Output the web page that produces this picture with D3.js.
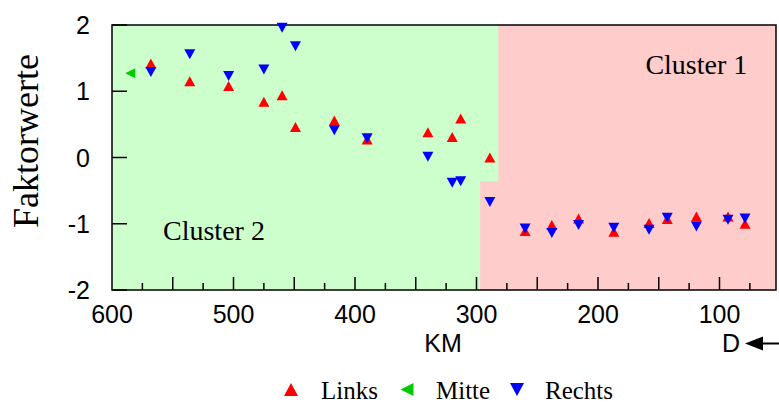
<!DOCTYPE html>
<html>
<head>
<meta charset="utf-8">
<script src="https://cdn.jsdelivr.net/npm/d3@7"></script>
<style>
  body { margin: 0; background: #fff; }
  svg { display: block; }
</style>
</head>
<body>
<svg id="chart" width="779" height="403"></svg>
<script>
// Flusskilometer der Messpunkte (Links / Rechts)
var km = [568, 536, 504, 475, 460, 449, 417, 390, 340, 320, 313, 289, 260, 238, 216, 187, 158, 143, 119, 93, 79];
var links = [1.42, 1.15, 1.08, 0.84, 0.94, 0.46, 0.56, 0.27, 0.38, 0.31, 0.59, 0.0, -1.11, -1.02, -0.92, -1.12, -0.99, -0.93, -0.89, -0.89, -1.0];
var rechts = [1.29, 1.56, 1.23, 1.33, 1.96, 1.68, 0.41, 0.29, 0.01, -0.38, -0.36, -0.67, -1.07, -1.14, -1.02, -1.06, -1.09, -0.91, -1.04, -0.94, -0.92];
var mitteKm = [585];
var mitte = [1.27];

var xTicks = [600, 500, 400, 300, 200, 100];
var yTicks = [-2, -1, 0, 1, 2];
// Grenze Cluster 2 / Cluster 1 (km), oben bzw. unten vom Sprung
var grenzeOben = 282, grenzeUnten = 297, grenzeSprung = -0.36;

var margin = {left: 112, right: 3, top: 25, bottom: 113};
var width = 779, height = 403;

var x = d3.scaleLinear().domain([600, 53.5]).range([margin.left, width - margin.right]);
var y = d3.scaleLinear().domain([-2, 2]).range([height - margin.bottom, margin.top]);

var svg = d3.select("#chart");
var sans = "'Liberation Sans', Arial, sans-serif";
var serif = "'Liberation Serif', 'Times New Roman', serif";

// Hintergrund: Cluster 1 rosa, Cluster 2 grün
svg.append("rect")
  .attr("x", x(600)).attr("y", y(2))
  .attr("width", x(53.5) - x(600)).attr("height", y(-2) - y(2))
  .attr("fill", "#ffcccc");

var gruen = [
  [x(600), y(2)], [x(grenzeOben), y(2)], [x(grenzeOben), y(grenzeSprung)],
  [x(grenzeUnten), y(grenzeSprung)], [x(grenzeUnten), y(-2)], [x(600), y(-2)]
];
svg.append("path")
  .attr("d", "M" + gruen.join("L") + "Z")
  .attr("fill", "#ccffcc");

// Cluster-Beschriftung
svg.append("text").attr("x", x(161)).attr("y", y(1.26))
  .attr("font-family", serif).attr("font-size", 28).text("Cluster 1");
svg.append("text").attr("x", x(558)).attr("y", y(-1.25))
  .attr("font-family", serif).attr("font-size", 28).text("Cluster 2");

// Achsen (Ticks nach innen)
var xMinor = d3.range(575, 53, -25);
svg.append("g").selectAll("line")
  .data(xMinor)
  .enter().append("line")
  .attr("x1", function(d) { return x(d); })
  .attr("x2", function(d) { return x(d); })
  .attr("y1", y(-2))
  .attr("y2", function(d) { return y(-2) - (d % 50 == 0 ? 13 : 7); })
  .attr("stroke", "#000").attr("stroke-width", 1.5);

svg.append("g").selectAll("line")
  .data(yTicks)
  .enter().append("line")
  .attr("x1", x(600)).attr("x2", x(600) + 15)
  .attr("y1", function(d) { return y(d); })
  .attr("y2", function(d) { return y(d); })
  .attr("stroke", "#000").attr("stroke-width", 1.5);

svg.append("rect")
  .attr("x", x(600)).attr("y", y(2))
  .attr("width", x(53.5) - x(600)).attr("height", y(-2) - y(2))
  .attr("fill", "none").attr("stroke", "#000").attr("stroke-width", 1.5);

svg.append("g").selectAll("text")
  .data(xTicks)
  .enter().append("text")
  .attr("x", function(d) { return x(d); })
  .attr("y", y(-2) + 33)
  .attr("text-anchor", "middle")
  .attr("font-family", sans).attr("font-size", 25)
  .text(function(d) { return d; });

svg.append("g").selectAll("text")
  .data(yTicks)
  .enter().append("text")
  .attr("x", 90)
  .attr("y", function(d) { return y(d); })
  .attr("dy", "0.36em")
  .attr("text-anchor", "end")
  .attr("font-family", sans).attr("font-size", 25)
  .text(function(d) { return d; });

svg.append("text")
  .attr("x", 443).attr("y", 352)
  .attr("text-anchor", "middle")
  .attr("font-family", sans).attr("font-size", 25)
  .text("KM");

svg.append("text")
  .attr("x", 722).attr("y", 352)
  .attr("font-family", sans).attr("font-size", 25)
  .text("D");
svg.append("path")
  .attr("d", "M745,343.5L763,336.5L763,350.5Z")
  .attr("fill", "#000");
svg.append("line")
  .attr("x1", 760).attr("x2", 779).attr("y1", 343.5).attr("y2", 343.5)
  .attr("stroke", "#000").attr("stroke-width", 2);

svg.append("text")
  .attr("transform", "translate(38,141) rotate(-90)")
  .attr("text-anchor", "middle")
  .attr("font-family", serif).attr("font-size", 36)
  .text("Faktorwerte");

// Markierungen
function dreieck(richtung, w, h) {
  var a = w / 2, b = h / 2;
  if (richtung == "hoch") return "M0," + (-b) + "L" + a + "," + b + "L" + (-a) + "," + b + "Z";
  if (richtung == "runter") return "M0," + b + "L" + a + "," + (-b) + "L" + (-a) + "," + (-b) + "Z";
  return "M" + (-a) + ",0L" + a + "," + (-b) + "L" + a + "," + b + "Z";
}

svg.append("g").selectAll("path")
  .data(links)
  .enter().append("path")
  .attr("transform", function(d, i) { return "translate(" + x(km[i]) + "," + y(d) + ")"; })
  .attr("d", dreieck("hoch", 11, 10))
  .attr("fill", "#ff0000");

svg.append("g").selectAll("path")
  .data(mitte)
  .enter().append("path")
  .attr("transform", function(d, i) { return "translate(" + x(mitteKm[i]) + "," + y(d) + ")"; })
  .attr("d", dreieck("links", 10, 10))
  .attr("fill", "#00cc00");

svg.append("g").selectAll("path")
  .data(rechts)
  .enter().append("path")
  .attr("transform", function(d, i) { return "translate(" + x(km[i]) + "," + y(d) + ")"; })
  .attr("d", dreieck("runter", 11, 10))
  .attr("fill", "#0000ff");

// Legende
var legende = [
  {name: "Links", richtung: "hoch", farbe: "#ff0000", mx: 291, tx: 321},
  {name: "Mitte", richtung: "links", farbe: "#00cc00", mx: 407, tx: 436},
  {name: "Rechts", richtung: "runter", farbe: "#0000ff", mx: 517, tx: 545}
];
var leg = svg.append("g").selectAll("g").data(legende).enter().append("g");
leg.append("path")
  .attr("transform", function(d) { return "translate(" + d.mx + ",389.5)"; })
  .attr("d", function(d) { return dreieck(d.richtung, d.richtung == "links" ? 13 : 14, 13); })
  .attr("fill", function(d) { return d.farbe; });
leg.append("text")
  .attr("x", function(d) { return d.tx; })
  .attr("y", 399)
  .attr("font-family", serif).attr("font-size", 25)
  .text(function(d) { return d.name; });
</script>
</body>
</html>
